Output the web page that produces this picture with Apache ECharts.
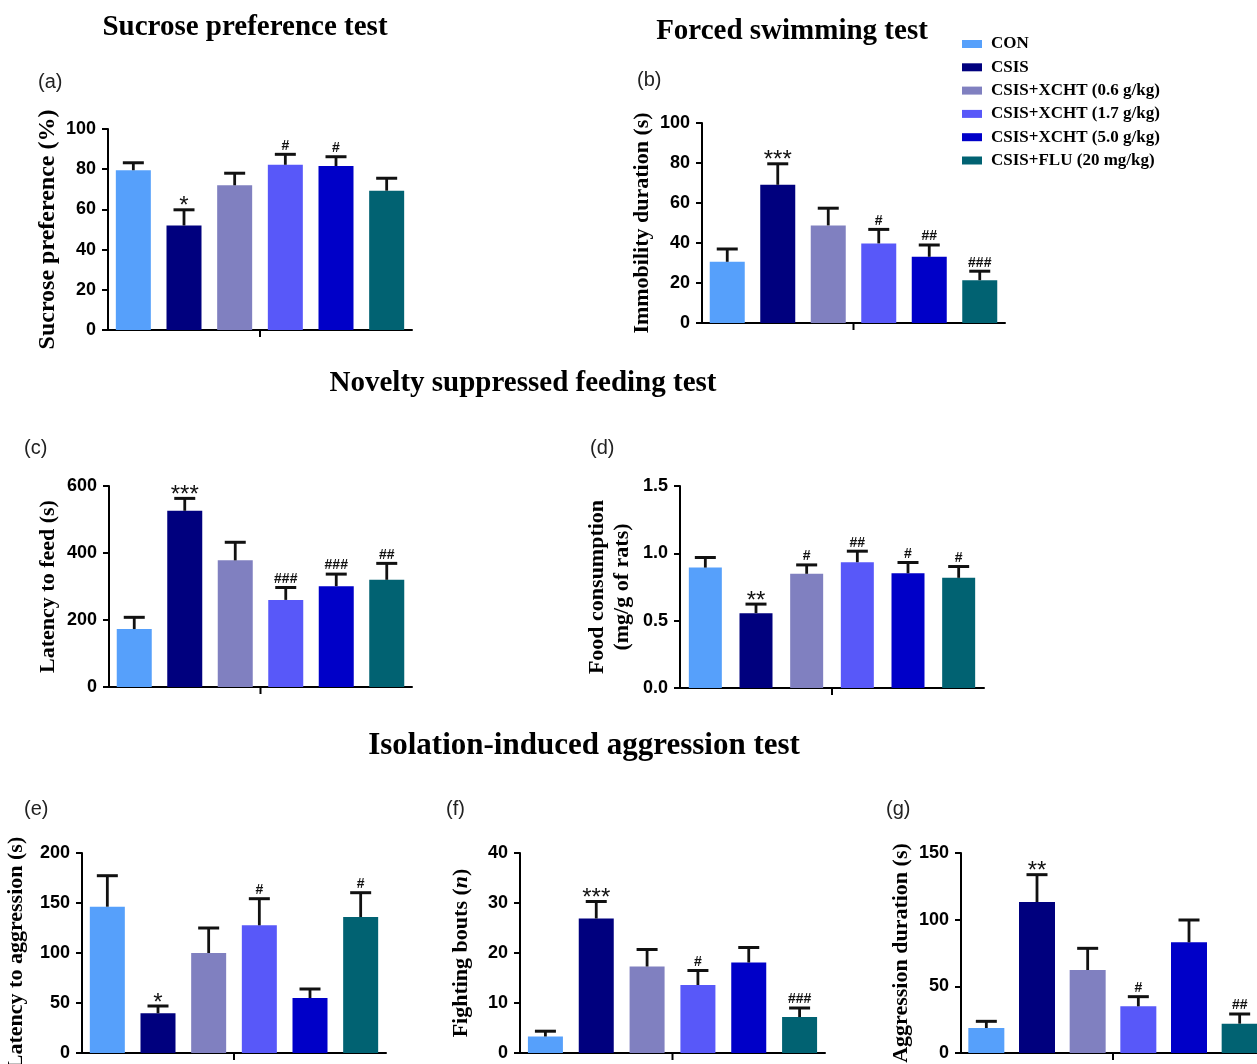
<!DOCTYPE html>
<html>
<head>
<meta charset="utf-8">
<script src="https://cdn.jsdelivr.net/npm/echarts@6/dist/echarts.min.js"></script>
<style>
  html, body { margin: 0; padding: 0; background: #fff; }
  #container { width: 1257px; height: 1064px; }
</style>
</head>
<body>
<div id="container"></div>
<script>
let dom = document.getElementById("container");
let myChart = echarts.init(dom);

const groups = ['CON', 'CSIS', 'CSIS+XCHT (0.6 g/kg)', 'CSIS+XCHT (1.7 g/kg)', 'CSIS+XCHT (5.0 g/kg)', 'CSIS+FLU (20 mg/kg)'];
const groupColors = ['#56a0fb', '#00007e', '#8080c0', '#5858f9', '#0000c8', '#016272'];

// (a) sucrose preference
const sucroseMean = [79.5, 52, 72, 82.2, 81.6, 69.3];
const sucroseSem = [3.7, 7.8, 6, 5.2, 4.6, 6.2];
const sucroseSig = ['', '*', '', '#', '#', ''];
// (b) forced swimming
const immobilityMean = [30.6, 69.1, 48.8, 39.8, 33.1, 21.4];
const immobilitySem = [6.4, 10.5, 8.6, 7.0, 5.9, 4.5];
const immobilitySig = ['', '***', '', '#', '##', '###'];
// (c) latency to feed
const feedLatencyMean = [173, 526, 378, 260, 301, 320];
const feedLatencySem = [35, 37, 54, 37, 36, 49];
const feedLatencySig = ['', '***', '', '###', '###', '##'];
// (d) food consumption
const foodMean = [0.894, 0.556, 0.848, 0.934, 0.852, 0.818];
const foodSem = [0.075, 0.067, 0.066, 0.082, 0.08, 0.084];
const foodSig = ['', '**', '#', '##', '#', '#'];
// (e) latency to aggression
const aggrLatencyMean = [146.3, 39.7, 100, 127.7, 55, 136];
const aggrLatencySem = [31, 7.3, 25, 26.6, 9, 24.3];
const aggrLatencySig = ['', '*', '', '#', '', '#'];
// (f) fighting bouts
const boutsMean = [3.3, 26.9, 17.3, 13.6, 18.1, 7.2];
const boutsSem = [1.06, 3.4, 3.4, 2.9, 3.0, 1.8];
const boutsSig = ['', '***', '', '#', '', '###'];
// (g) aggression duration
const aggrDurMean = [18.75, 113.25, 62.25, 35, 83, 22];
const aggrDurSem = [5, 20.5, 16.25, 7.25, 16.75, 7.25];
const aggrDurSig = ['', '**', '', '#', '', '##'];

const serif = "'Liberation Serif', 'Times New Roman', serif";
const sans = "'Liberation Sans', Arial, sans-serif";

const panels = [
    {name: 'Sucrose preference (%)', mean: sucroseMean, sem: sucroseSem, sig: sucroseSig, max: 100, interval: 20,
        grid: {left: 108, top: 129, width: 304, height: 201}, nameGap: 48, nameSize: 24, barWidth: 35},
    {name: 'Immobility duration (s)', mean: immobilityMean, sem: immobilitySem, sig: immobilitySig, max: 100, interval: 20,
        grid: {left: 702, top: 123, width: 303, height: 200}, nameGap: 49, nameSize: 22, barWidth: 35},
    {name: 'Latency to feed (s)', mean: feedLatencyMean, sem: feedLatencySem, sig: feedLatencySig, max: 600, interval: 200,
        grid: {left: 109, top: 486, width: 303, height: 201}, nameGap: 50, nameSize: 22, barWidth: 35},
    {name: 'Food consumption\n(mg/g of rats)', mean: foodMean, sem: foodSem, sig: foodSig, max: 1.5, interval: 0.5,
        grid: {left: 680, top: 486, width: 304, height: 202}, nameGap: 45, nameSize: 22, nameLine: 25, barWidth: 33, decimals: 1},
    {name: 'Latency to aggression (s)', mean: aggrLatencyMean, sem: aggrLatencySem, sig: aggrLatencySig, max: 200, interval: 50,
        grid: {left: 82, top: 853, width: 304, height: 200}, nameGap: 55, nameSize: 22, barWidth: 35},
    {name: 'Fighting bouts ({i|n})', mean: boutsMean, sem: boutsSem, sig: boutsSig, max: 40, interval: 10,
        grid: {left: 520, top: 853, width: 305, height: 200}, nameGap: 48, nameSize: 22, barWidth: 35},
    {name: 'Aggression duration (s)', mean: aggrDurMean, sem: aggrDurSem, sig: aggrDurSig, max: 150, interval: 50,
        grid: {left: 961, top: 853, width: 304, height: 200}, nameGap: 49, nameSize: 22, barWidth: 36}
];

let grids = [];
let xAxes = [];
let yAxes = [];
let series = [];

panels.forEach(function (p, pi) {
    let lh = p.nameLine || p.nameSize;
    grids.push(Object.assign({containLabel: false, outerBoundsMode: 'none'}, p.grid));
    xAxes.push({
        type: 'category',
        gridIndex: pi,
        data: groups,
        axisLine: {lineStyle: {color: '#000', width: 2}},
        axisTick: {show: false},
        axisLabel: {show: false}
    });
    yAxes.push({
        type: 'value',
        gridIndex: pi,
        min: 0,
        max: p.max,
        interval: p.interval,
        name: p.name,
        nameLocation: 'middle',
        nameGap: p.nameGap,
        nameTextStyle: {
            fontFamily: serif, fontWeight: 'bold', fontSize: p.nameSize, color: '#000', lineHeight: lh,
            rich: {i: {fontFamily: serif, fontWeight: 'bold', fontStyle: 'italic', fontSize: p.nameSize, color: '#000', lineHeight: lh}}
        },
        axisLine: {show: true, lineStyle: {color: '#000', width: 2}},
        axisTick: {show: true, length: 6, lineStyle: {color: '#000', width: 2}},
        splitLine: {show: false},
        axisLabel: {
            fontFamily: sans, fontWeight: 'bold', fontSize: 18, color: '#000', margin: 12,
            formatter: function (v) { return p.decimals ? v.toFixed(p.decimals) : String(v); }
        }
    });
    groups.forEach(function (g, gi) {
        series.push({
            type: 'bar',
            name: g,
            xAxisIndex: pi,
            yAxisIndex: pi,
            barWidth: p.barWidth,
            barGap: '-100%',
            itemStyle: {color: groupColors[gi]},
            data: p.mean.map(function (v, i) { return i === gi ? v : '-'; })
        });
    });
    // error bars (upper SEM), significance marks and the single middle x tick
    series.push({
        type: 'custom',
        xAxisIndex: pi,
        yAxisIndex: pi,
        z: 10,
        data: p.mean.map(function (v, i) { return [i, v, v + p.sem[i]]; }),
        renderItem: function (params, api) {
            let base = api.coord([api.value(0), api.value(1)]);
            let top = api.coord([api.value(0), api.value(2)]);
            let capHalf = 10.5;
            let sig = p.sig[params.dataIndex];
            let children = [
                {type: 'line', shape: {x1: base[0], y1: base[1], x2: top[0], y2: top[1]},
                    style: {stroke: '#111', lineWidth: 2.8}},
                {type: 'line', shape: {x1: top[0] - capHalf, y1: top[1], x2: top[0] + capHalf, y2: top[1]},
                    style: {stroke: '#111', lineWidth: 3}}
            ];
            if (sig) {
                let star = sig.indexOf('*') >= 0;
                children.push({
                    type: 'text',
                    x: top[0],
                    y: top[1] + (star ? 9 : -1.5),
                    style: {
                        text: sig,
                        align: 'center',
                        verticalAlign: 'bottom',
                        fontFamily: sans,
                        fontWeight: star ? 'normal' : 'bold',
                        fontSize: star ? 24 : 14,
                        fill: '#111'
                    }
                });
            }
            if (params.dataIndex === 2) {
                let zero = api.coord([api.value(0), 0]);
                let tx = zero[0] + api.size([1, 0])[0] / 2;
                children.push({type: 'line', shape: {x1: tx, y1: zero[1], x2: tx, y2: zero[1] + 7},
                    style: {stroke: '#000', lineWidth: 2}});
            }
            return {type: 'group', children: children};
        }
    });
});

function heading(text, cx, cy, size) {
    return {
        type: 'text', x: cx, y: cy,
        style: {text: text, align: 'center', verticalAlign: 'middle', fontFamily: serif, fontWeight: 'bold', fontSize: size, fill: '#000'}
    };
}

function panelLabel(text, x, cy) {
    return {
        type: 'text', x: x, y: cy,
        style: {text: text, align: 'left', verticalAlign: 'middle', fontFamily: sans, fontSize: 20, fill: '#222'}
    };
}

let option = {
    backgroundColor: '#fff',
    animation: false,
    grid: grids,
    xAxis: xAxes,
    yAxis: yAxes,
    legend: {
        data: groups,
        orient: 'vertical',
        left: 957,
        top: 30.5,
        icon: 'rect',
        itemWidth: 20,
        itemHeight: 8,
        itemGap: 6.3,
        textStyle: {fontFamily: serif, fontWeight: 'bold', fontSize: 17, color: '#000', lineHeight: 17, padding: [0, 0, 0, 4]}
    },
    graphic: [
        heading('Sucrose preference test', 245, 28, 29),
        heading('Forced swimming test', 792, 32, 29),
        heading('Novelty suppressed feeding test', 523, 384, 29),
        heading('Isolation-induced aggression test', 584, 746, 31),
        panelLabel('(a)', 38, 82),
        panelLabel('(b)', 637, 80),
        panelLabel('(c)', 24, 448),
        panelLabel('(d)', 590, 448),
        panelLabel('(e)', 24, 809),
        panelLabel('(f)', 446, 809),
        panelLabel('(g)', 886, 809)
    ],
    series: series
};

if (option && typeof option === "object") {
    myChart.setOption(option, true);
}
</script>
</body>
</html>
